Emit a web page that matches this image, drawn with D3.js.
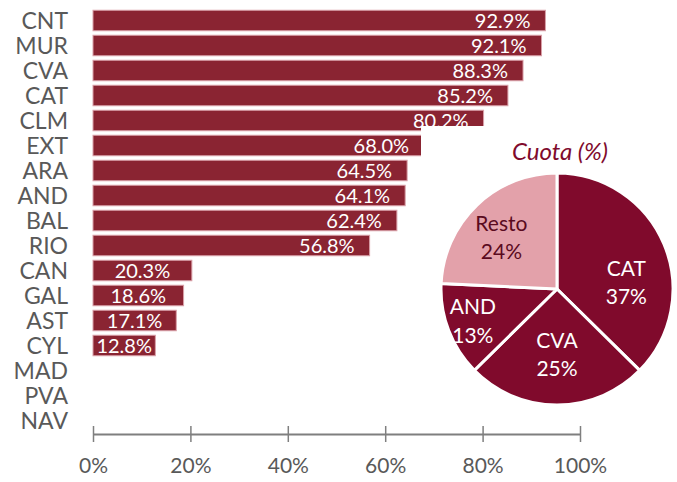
<!DOCTYPE html>
<html>
<head>
<meta charset="utf-8">
<script src="https://cdn.jsdelivr.net/npm/d3@7"></script>
<style>
  body { margin: 0; background: #fff; }
  text { font-family: Lato, "Open Sans", sans-serif; }
</style>
</head>
<body>
<div id="chart"></div>
<script>
// bar data
var regions = ["CNT","MUR","CVA","CAT","CLM","EXT","ARA","AND","BAL","RIO","CAN","GAL","AST","CYL","MAD","PVA","NAV"];
var shares = [92.9, 92.1, 88.3, 85.2, 80.2, 68.0, 64.5, 64.1, 62.4, 56.8, 20.3, 18.6, 17.1, 12.8, null, null, null];
var xTicks = [0, 20, 40, 60, 80, 100];

// pie data
var pieNames = ["CAT", "CVA", "AND", "Resto"];
var pieValues = [37, 25, 13, 24];
var pieColors = ["#800a2c", "#800a2c", "#800a2c", "#e3a1aa"];
var pieTextColors = ["#fff", "#fff", "#fff", "#5a0a1e"];
var labelNudge = [[3, 19], [0, -9], [-17, 4], [-6, -2]];

var W = 677, H = 482;
var margin = {top: 8, left: 93, right: 97, bottom: 60};

var svg = d3.select("#chart").append("svg")
    .attr("width", W)
    .attr("height", H);

//////// SCALES ////////
var x = d3.scaleLinear().domain([0, 100]).range([margin.left, 580]);
var y = d3.scaleBand().domain(regions).range([margin.top, margin.top + 25 * regions.length]).paddingInner(0.18).paddingOuter(0.09);

var data = regions.map(function(r, i) { return {name: r, v: shares[i]}; });

// BARS
svg.append("g").selectAll("rect")
    .data(data.filter(function(d) { return d.v != null; }))
    .enter().append("rect")
    .attr("x", x(0))
    .attr("y", function(d) { return y(d.name); })
    .attr("width", function(d) { return x(d.v) - x(0); })
    .attr("height", y.bandwidth())
    .attr("fill", "#8a2432")
    .attr("stroke", "#d9a0a8")
    .attr("stroke-width", 1);

svg.append("g").selectAll("text")
    .data(data.filter(function(d) { return d.v != null; }))
    .enter().append("text")
    .attr("x", function(d) { return d.v > 50 ? x(d.v) - 15 : (x(0) + x(d.v)) / 2; })
    .attr("y", function(d) { return y(d.name) + y.bandwidth() / 2; })
    .attr("dy", "0.36em")
    .attr("text-anchor", function(d) { return d.v > 50 ? "end" : "middle"; })
    .attr("fill", "#fff")
    .attr("font-size", 20)
    .text(function(d) { return d.v.toFixed(1) + "%"; });

// category labels
svg.append("g").selectAll("text")
    .data(regions)
    .enter().append("text")
    .attr("x", 68)
    .attr("y", function(d) { return y(d) + y.bandwidth() / 2; })
    .attr("dy", "0.36em")
    .attr("text-anchor", "end")
    .attr("fill", "#595959")
    .attr("font-size", 23)
    .text(function(d) { return d; });

// X Axis
var xAxis = svg.append("g")
    .attr("transform", "translate(0,434)")
    .call(d3.axisBottom(x).tickValues(xTicks).tickSize(8).tickSizeOuter(0).tickFormat(function(d) { return d + "%"; }));
xAxis.select(".domain").attr("stroke", "#7f7f7f").attr("stroke-width", 2);
xAxis.selectAll(".tick line").attr("stroke", "#7f7f7f").attr("stroke-width", 1.5).attr("y1", -8);
xAxis.selectAll(".tick text")
    .attr("y", 24)
    .attr("fill", "#595959")
    .attr("font-size", 21)
    .attr("font-family", "Lato, sans-serif");

//////// PIE ////////
svg.append("rect")
    .attr("x", 421).attr("y", 126)
    .attr("width", W - 421).attr("height", 290)
    .attr("fill", "#fff");

var cx = 557, cy = 289, r = 116;
var pie = d3.pie().sort(null).value(function(d) { return d; });
var arc = d3.arc().innerRadius(0).outerRadius(r);
var labelArc = d3.arc().innerRadius(r * 0.62).outerRadius(r * 0.62);
var arcs = pie(pieValues);

var gp = svg.append("g").attr("transform", "translate(" + cx + "," + cy + ")");

gp.selectAll("path")
    .data(arcs)
    .enter().append("path")
    .attr("d", arc)
    .attr("fill", function(d, i) { return pieColors[i]; })
    .attr("stroke", "#fff")
    .attr("stroke-width", 3)
    .attr("stroke-linejoin", "round");

var lbl = gp.selectAll("text.pl")
    .data(arcs)
    .enter().append("text")
    .attr("class", "pl")
    .attr("transform", function(d, i) {
        var c = labelArc.centroid(d);
        return "translate(" + (c[0] + labelNudge[i][0]) + "," + (c[1] + labelNudge[i][1]) + ")";
    })
    .attr("text-anchor", "middle")
    .attr("fill", function(d, i) { return pieTextColors[i]; })
    .attr("font-size", 21);

lbl.append("tspan").attr("x", 0).attr("dy", "-0.2em").text(function(d, i) { return pieNames[i]; });
lbl.append("tspan").attr("x", 0).attr("dy", "1.35em").text(function(d) { return d.value + "%"; });

svg.append("text")
    .attr("x", 560)
    .attr("y", 160)
    .attr("text-anchor", "middle")
    .attr("font-style", "italic")
    .attr("font-size", 24)
    .attr("fill", "#800a2c")
    .text("Cuota (%)");
</script>
</body>
</html>
